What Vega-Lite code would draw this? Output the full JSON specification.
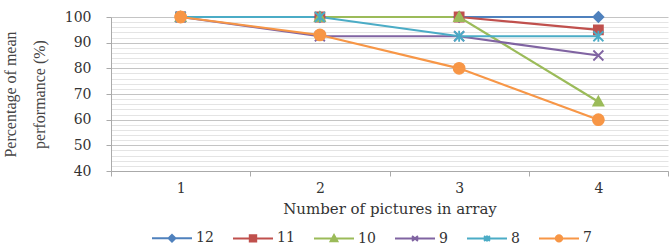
{
  "$schema": "https://vega.github.io/schema/vega-lite/v6.json",
  "autosize": {"type": "none"},
  "width": 557,
  "height": 154,
  "padding": {"left": 111, "top": 17, "right": 3, "bottom": 74},
  "background": "white",
  "data": {"values": [
    {"n": "1", "series": "12", "value": 100},
    {"n": "2", "series": "12", "value": 100},
    {"n": "3", "series": "12", "value": 100},
    {"n": "4", "series": "12", "value": 100},
    {"n": "1", "series": "11", "value": 100},
    {"n": "2", "series": "11", "value": 100},
    {"n": "3", "series": "11", "value": 100},
    {"n": "4", "series": "11", "value": 95},
    {"n": "1", "series": "10", "value": 100},
    {"n": "2", "series": "10", "value": 100},
    {"n": "3", "series": "10", "value": 100},
    {"n": "4", "series": "10", "value": 67},
    {"n": "1", "series": "9", "value": 100},
    {"n": "2", "series": "9", "value": 92.5},
    {"n": "3", "series": "9", "value": 92.5},
    {"n": "4", "series": "9", "value": 85},
    {"n": "1", "series": "8", "value": 100},
    {"n": "2", "series": "8", "value": 100},
    {"n": "3", "series": "8", "value": 92.5},
    {"n": "4", "series": "8", "value": 92.5},
    {"n": "1", "series": "7", "value": 100},
    {"n": "2", "series": "7", "value": 93},
    {"n": "3", "series": "7", "value": 80},
    {"n": "4", "series": "7", "value": 60}
  ]},
  "encoding": {
    "x": {
      "field": "n", "type": "ordinal",
      "scale": {"paddingInner": 0, "paddingOuter": 0},
      "axis": {
        "title": "Number of pictures in array",
        "labelAngle": 0,
        "tickBand": "extent",
        "grid": false,
        "domainColor": "#aaaaaa",
        "tickColor": "#aaaaaa",
        "tickSize": 5,
        "labelFont": "DejaVu Serif",
        "labelFontSize": 14,
        "labelColor": "#333333",
        "labelPadding": 5,
        "titleFont": "DejaVu Serif",
        "titleFontSize": 15,
        "titleFontWeight": "normal",
        "titleColor": "#333333",
        "titlePadding": 6
      }
    },
    "y": {
      "field": "value", "type": "quantitative",
      "scale": {"domain": [40, 100], "nice": false, "zero": false},
      "axis": {
        "title": ["Percentage of mean", "performance (%)"],
        "values": [40,42,44,46,48,50,52,54,56,58,60,62,64,66,68,70,72,74,76,78,80,82,84,86,88,90,92,94,96,98,100],
        "labelExpr": "datum.value % 10 === 0 ? datum.label : ''",
        "grid": true,
        "gridColor": {"condition": {"test": "datum.value % 10 === 0", "value": "#c4c4c4"}, "value": "#e4e4e4"},
        "tickOpacity": {"condition": {"test": "datum.value % 10 === 0", "value": 1}, "value": 0},
        "tickColor": "#aaaaaa",
        "tickSize": 5,
        "domainColor": "#aaaaaa",
        "labelFont": "DejaVu Serif",
        "labelFontSize": 14,
        "labelColor": "#333333",
        "labelPadding": 15,
        "titleFont": "Liberation Serif",
        "titleFontSize": 16,
        "titleFontWeight": "normal",
        "titleColor": "#444444",
        "titleLineHeight": 29,
        "titlePadding": 17
      }
    },
    "color": {
      "field": "series", "type": "nominal",
      "scale": {"domain": ["12","11","10","9","8","7"], "range": ["#4F81BD","#C0504D","#9BBB59","#8064A2","#4BACC6","#F79646"]},
      "legend": {
        "title": null,
        "orient": "none",
        "legendX": 40,
        "legendY": 200,
        "direction": "horizontal",
        "columns": 6,
        "gridAlign": "each",
        "columnPadding": 15,
        "symbolSize": 1600,
        "symbolStrokeWidth": 2,
        "labelFont": "DejaVu Serif",
        "labelFontSize": 14,
        "labelColor": "#333333",
        "labelOffset": 3,
        "encode": {
          "symbols": {
            "update": {
              "shape": {"signal": "({'12': 'M-1,0L1,0M0,-0.17L0.17,0L0,0.17L-0.17,0Z', '11': 'M-1,0L1,0M-0.16,-0.16L0.16,-0.16L0.16,0.16L-0.16,0.16Z', '10': 'M-1,0L1,0M0,-0.17L0.17,0.14L-0.17,0.14Z', '9': 'M-1,0L1,0M-0.15,-0.12L0.15,0.12M-0.15,0.12L0.15,-0.12', '8': 'M-1,0L1,0M-0.15,-0.12L0.15,0.12M-0.15,0.12L0.15,-0.12M0,-0.15L0,0.15', '7': 'M-1,0L1,0M-0.16,0A0.16,0.16 0 1,0 0.16,0A0.16,0.16 0 1,0 -0.16,0Z'})[datum.value]"},
              "fill": {"scale": "color", "field": "value"},
              "stroke": {"scale": "color", "field": "value"},
              "fillOpacity": {"value": 1},
              "strokeWidth": {"value": 2}
            }
          }
        }
      }
    }
  },
  "layer": [
    {
      "mark": {"type": "line", "strokeWidth": 2.2}
    },
    {
      "mark": {"type": "point", "filled": true, "opacity": 1, "strokeWidth": 1.8, "size": 100},
      "encoding": {
        "shape": {
          "field": "series", "type": "nominal",
          "scale": {"domain": ["7","8","9","10","11","12"], "range": [
            "M-1.1,0A1.1,1.1 0 1,0 1.1,0A1.1,1.1 0 1,0 -1.1,0Z",
            "M-1,-1L1,1M-1,1L1,-1M0,-1.1L0,1.1",
            "M-1,-1L1,1M-1,1L1,-1",
            "M0,-1L1,0.8L-1,0.8Z",
            "M-0.9,-0.9L0.9,-0.9L0.9,0.9L-0.9,0.9Z",
            "M0,-1L1,0L0,1L-1,0Z"
          ]},
          "legend": null
        },
        "stroke": {
          "field": "series", "type": "nominal",
          "scale": {"domain": ["7","8","9","10","11","12"], "range": ["#F79646","#4BACC6","#8064A2","#9BBB59","#C0504D","#4F81BD"]},
          "legend": null
        }
      }
    }
  ],
  "config": {
    "view": {"stroke": null}
  }
}
